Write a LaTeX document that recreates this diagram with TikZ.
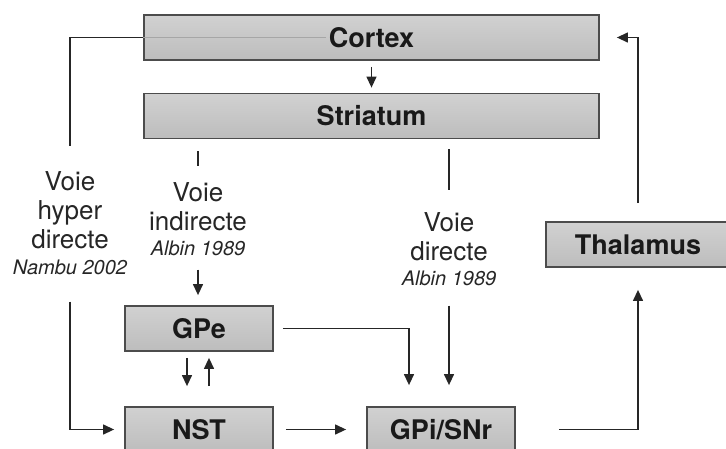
\documentclass[tikz,border=0pt]{standalone}
\usepackage{fontspec}
\setmainfont{TeX Gyre Heros}
\usetikzlibrary{arrows.meta}
\newcommand{\auteur}[1]{{\fontsize{20}{22}\selectfont\itshape #1}}

\begin{document}
\begin{tikzpicture}[x=1pt, y=-1pt,
    box/.style={draw=black!70, line width=1.8pt, top color=black!18, middle color=black!6,
        bottom color=black!26, minimum height=45pt, inner sep=0pt,
        font=\fontsize{27}{30}\selectfont\bfseries, text=black!90},
    voie/.style={align=center, anchor=north, inner sep=0pt,
        font=\fontsize{26}{29}\selectfont, text=black!85},
    line/.style={line width=1.3pt, draw=black!85},
    arr/.style={line, -{Triangle[length=11pt,width=10pt]}}]
    \useasboundingbox (0,0) rectangle (726,448);
    % Boxes
    \node[box, minimum width=455pt] (cortex) at (371.5,37.5) {Cortex};
    \node[box, minimum width=455pt] (striatum) at (371.5,116) {Striatum};
    \node[box, minimum width=148pt] (gpe) at (199,328.5) {GPe};
    \node[box, minimum width=148pt] (nst) at (199,429.5) {NST};
    \node[box, minimum width=148pt] (gpi) at (441,429.5) {GPi/SNr};
    \node[box, minimum width=184pt] (thalamus) at (638,244.5) {Thalamus};
    % Pathway labels
    \node[voie] (hyper) at (70,171) {Voie\\hyper\\directe\\[-3pt]\auteur{Nambu 2002}};
    \node[voie] (indir) at (198,182) {Voie\\indirecte\\[-4pt]\auteur{Albin 1989}};
    \node[voie] (direct) at (449,212) {Voie\\directe\\[-4pt]\auteur{Albin 1989}};
    % Connections
    \draw[black!35, line width=1pt] (cortex.west) -- ([xshift=-3pt]cortex.text |- cortex.west);
    \draw[arr, shorten <=6pt, shorten >=5pt] (cortex.south) -- (striatum.north);
    \draw[line, shorten >=25pt] (cortex.west) -| (hyper.north);
    \draw[arr, shorten <=27pt, shorten >=10pt] (hyper.south) |- (nst.west);
    \draw[line, shorten <=12pt, shorten >=16pt] (striatum.south -| indir.north) -- (indir.north);
    \draw[arr, shorten <=14pt, shorten >=10pt] (indir.south) -- (indir.south |- gpe.north);
    \draw[line, shorten <=10pt, shorten >=22pt] (striatum.south -| direct.north) -- (direct.north);
    \draw[arr, shorten <=20pt, shorten >=21pt] (direct.south) -- (direct.south |- gpi.north);
    \draw[arr, shorten <=9pt, shorten >=21pt] (gpe.east) -| ([xshift=-32pt]gpi.north);
    \draw[arr, shorten <=6pt, shorten >=20pt] ([xshift=-12pt]gpe.south) -- ([xshift=-12pt]nst.north);
    \draw[arr, shorten <=20pt, shorten >=6pt] ([xshift=10pt]nst.north) -- ([xshift=10pt]gpe.south);
    \draw[arr, shorten <=12pt, shorten >=20pt] (nst.east) -- (gpi.west);
    \draw[arr, shorten <=43pt, shorten >=22pt] (gpi.east) -| (thalamus.south);
    \draw[arr, shorten <=18pt, shorten >=17pt] (thalamus.north) |- (cortex.east);
\end{tikzpicture}
\end{document}
